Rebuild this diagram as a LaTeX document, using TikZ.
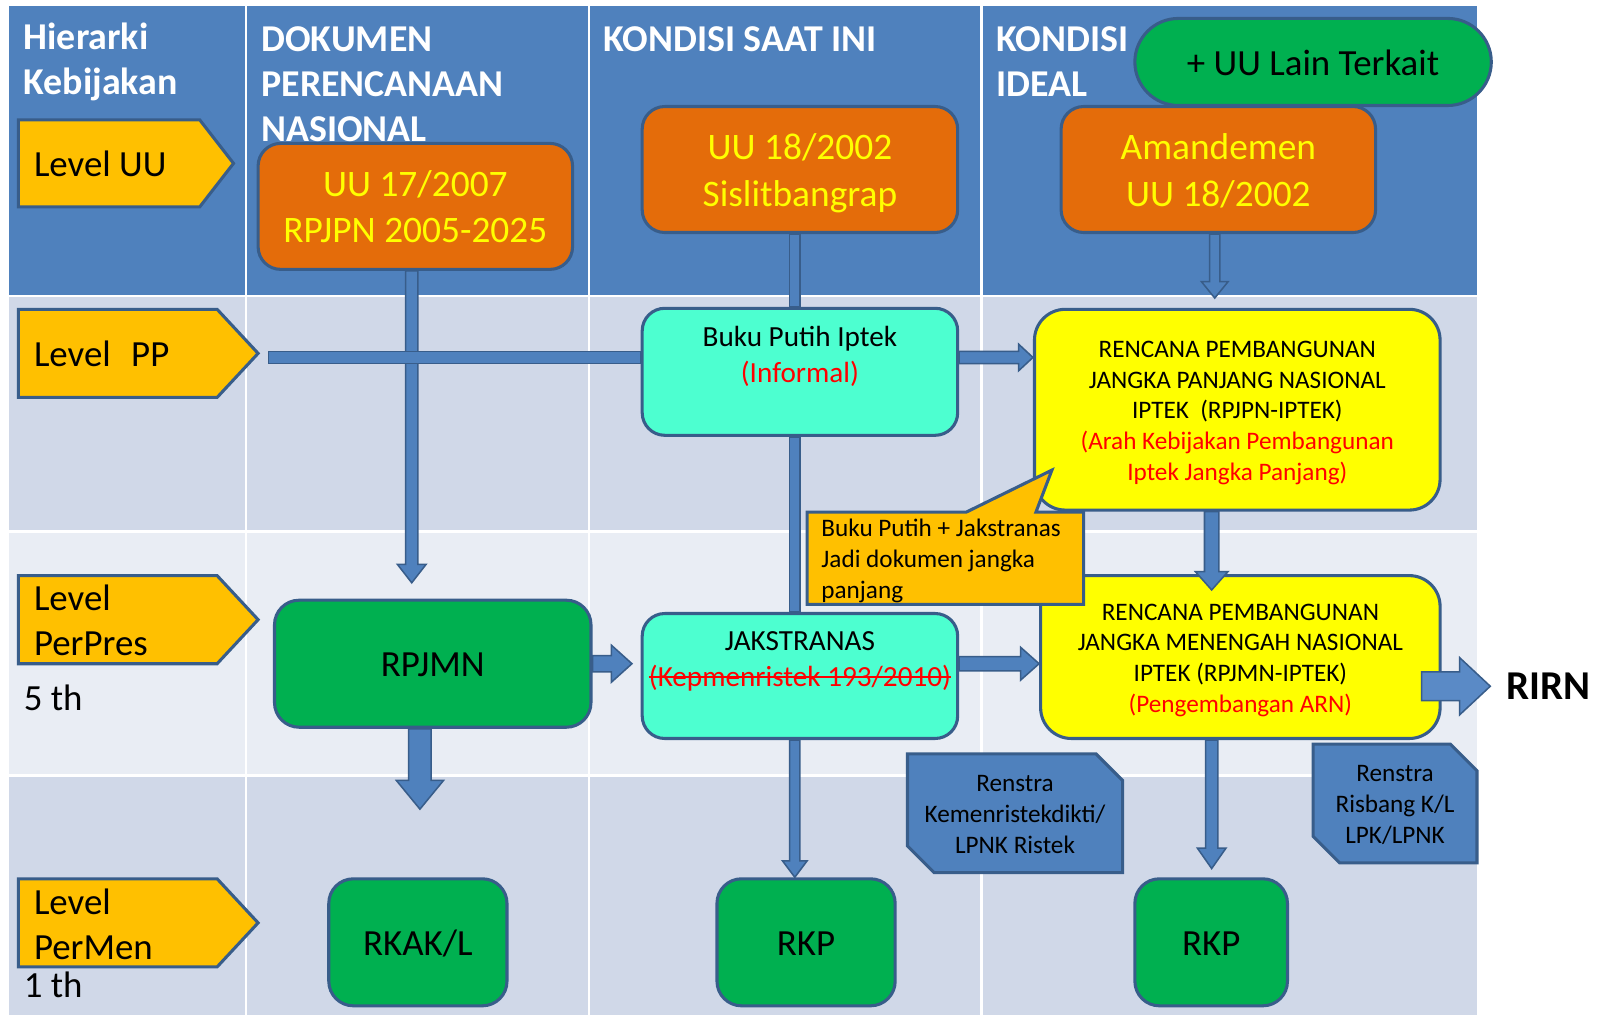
\documentclass[tikz,border=0pt]{standalone}
\usepackage{fontspec}
\setmainfont{Carlito}
\newcommand\mystrike[1]{\setbox0\hbox{#1}\rlap{\rule[0.3em]{\wd0}{2pt}}\box0}
\newcommand\mystrut{\rule[-0.25em]{0pt}{1.22em}}
\usetikzlibrary{shapes.misc,shapes.callouts,calc}
\definecolor{hdr}{HTML}{4F81BD}
\definecolor{rowA}{HTML}{D0D8E8}
\definecolor{rowB}{HTML}{E9EDF4}
\definecolor{bdr}{HTML}{385D8A}
\definecolor{orng}{HTML}{E46C0A}
\definecolor{gold}{HTML}{FFC000}
\definecolor{aqua}{HTML}{4DFFD0}
\definecolor{grn}{HTML}{00B050}
\definecolor{ylw}{HTML}{FFFF00}
\definecolor{redt}{HTML}{FF0000}
\definecolor{arrl}{HTML}{5A8AC6}
\tikzset{
  basebox/.style={draw=bdr, line width=3pt, rounded corners=22pt, align=center, inner sep=0pt, anchor=center},
  orangebox/.style={basebox, fill=orng, text=ylw, font=\fontsize{36.5}{45}\selectfont},
  aquabox/.style={basebox, fill=aqua, text=black, font=\fontsize{28.5}{35}\selectfont},
  yellowbox/.style={basebox, rounded corners=30pt, fill=ylw, text=black, font=\fontsize{24.6}{30}\selectfont},
  greenbox/.style={basebox, rounded corners=24pt, fill=grn, text=black, font=\fontsize{36}{44}\selectfont},
  renbox/.style={chamfered rectangle, chamfered rectangle corners={north east,south west},
     chamfered rectangle xsep=13pt, chamfered rectangle ysep=13pt,
     draw=bdr, line width=3pt, fill=hdr, align=center, inner sep=0pt, text=black,
     font=\fontsize{24.6}{30}\selectfont},
  lainbox/.style={rounded rectangle, draw=bdr, line width=3pt, fill=grn, text=black, inner sep=0pt,
     font=\fontsize{36}{44}\selectfont},
  calloutbox/.style={rectangle callout, draw=bdr, line width=3pt, fill=gold, text=black, align=flush left,
     inner sep=0pt, font=\fontsize{24.6}{30}\selectfont},
  lvl/.style={draw=bdr, line width=3pt, fill=gold},
  lvltext/.style={anchor=west, align=left, inner sep=0pt, text=black, font=\fontsize{36}{44}\selectfont},
  hdrtext/.style={anchor=west, align=left, inner sep=0pt, text=white, font=\bfseries\fontsize{37}{44}\selectfont},
  blockarrow/.style={draw=bdr, line width=1.5pt, fill=hdr},
  gridline/.style={white, line width=2.5pt}
}
\newcommand\myvbar[3]{\path[blockarrow] let \p1=#1, \p2=#2 in (\x1-#3,\y1) rectangle (\x1+#3,\y2);}
\newcommand\myhbar[3]{\path[blockarrow] let \p1=#1, \p2=#2 in (\x1,\y1-#3) rectangle (\x2,\y1+#3);}
\newcommand\myvarrow[6][]{\path[blockarrow,#1] let \p1=#2, \p2=#3 in (\x1-#4,\y1) -- (\x1-#4,\y2+#6) -- (\x1-#5,\y2+#6) -- (\x1,\y2) -- (\x1+#5,\y2+#6) -- (\x1+#4,\y2+#6) -- (\x1+#4,\y1) -- cycle;}
\newcommand\myharrow[6][]{\path[blockarrow,#1] let \p1=#2, \p2=#3 in (\x1,\y1-#4) -- (\x2-#6,\y1-#4) -- (\x2-#6,\y1-#5) -- (\x2,\y1) -- (\x2-#6,\y1+#5) -- (\x2-#6,\y1+#4) -- (\x1,\y1+#4) -- cycle;}
\begin{document}
\begin{tikzpicture}[x=1pt,y=-1pt]
\useasboundingbox (0,0) rectangle (1568,991);
\fill[white] (0,0) rectangle (1568,991);
% table
\fill[hdr] (9,6) rectangle (1442,289);
\fill[rowA] (9,289) rectangle (1442,519);
\fill[rowB] (9,519) rectangle (1442,757);
\fill[rowA] (9,757) rectangle (1442,991);
\foreach \xx in {240,575,958} \draw[gridline] (\xx,6) -- (\xx,991);
\foreach \yy in {289,519,757} \draw[gridline] (9,\yy) -- (1442,\yy);
% headers
\node[hdrtext] (h1) at (23,60) {Hierarki\\Kebijakan};
\node[hdrtext] (h2) at (255,82) {DOKUMEN\\PERENCANAAN\\NASIONAL};
\node[hdrtext] (h3) at (589,38) {KONDISI SAAT INI};
\node[hdrtext] (h4) at (973,60) {KONDISI\\IDEAL};
% level shapes
\path[lvl] (18,117) -- (195,117) -- (228,159.5) -- (195,202) -- (18,202) -- cycle;
\path[lvl] (18,302) -- (212,302) -- (252,345) -- (212,388) -- (18,388) -- cycle;
\path[lvl] (18,562) -- (212,562) -- (252,605) -- (212,648) -- (18,648) -- cycle;
\path[lvl] (18,858) -- (212,858) -- (252,901) -- (212,944) -- (18,944) -- cycle;
\node[lvltext] (l1) at (33,160) {Level UU};
\node[lvltext] (l2) at (33,345) {Level\hspace{20pt}PP};
\node[lvltext] (l3) at (33,606) {Level\\PerPres};
\node[lvltext] (l3b) at (23,681) {5 th};
\node[lvltext] (l4) at (33,902) {Level\\PerMen};
\node[lvltext] (l4b) at (23,962) {1 th};
% boxes
\node[orangebox, minimum width=307pt, minimum height=123pt] (uu17) at (405.5,201.5) {\mystrut UU 17/2007\\RPJPN 2005-2025\mystrut};
\node[orangebox, minimum width=308pt, minimum height=123pt] (uu18) at (781,165.5) {\mystrut UU 18/2002\\Sislitbangrap\mystrut};
\node[orangebox, minimum width=307pt, minimum height=123pt] (amd) at (1189.5,165.5) {\mystrut Amandemen\\UU 18/2002\mystrut};
\node[lainbox, minimum width=348pt, minimum height=85pt] (lain) at (1282,60.5) {\mystrut + UU Lain Terkait};
\node[aquabox, minimum width=308pt, minimum height=124pt] (buku) at (781,363) {\mystrut Buku Putih Iptek\\\textcolor{redt}{(Informal)}\\\mystrut};
\node[yellowbox, minimum width=396pt, minimum height=196pt] (ri1) at (1208,400) {\mystrut RENCANA PEMBANGUNAN\\JANGKA PANJANG NASIONAL\\IPTEK\ \ (RPJPN-IPTEK)\\\textcolor{redt}{(Arah Kebijakan Pembangunan}\\\textcolor{redt}{Iptek Jangka Panjang)}\mystrut};
\node[greenbox, minimum width=309pt, minimum height=124pt] (rpjmn) at (422.5,648) {\mystrut RPJMN};
\node[aquabox, minimum width=308pt, minimum height=122pt] (jak) at (781,660) {\mystrut JAKSTRANAS\\\textcolor{redt}{\mystrike{(Kepmenristek 193/2010)}}\\\mystrut};
\node[yellowbox, minimum width=390pt, minimum height=159pt] (ri2) at (1211,641.5) {\mystrut RENCANA PEMBANGUNAN\\JANGKA MENENGAH NASIONAL\\IPTEK (RPJMN-IPTEK)\\\textcolor{redt}{(Pengembangan ARN)}\mystrut};
\node[renbox, minimum width=210pt, minimum height=104pt] (ren1) at (991,794) {\mystrut Renstra\\Kemenristekdikti/\\LPNK Ristek\mystrut};
\node[renbox, minimum width=160pt, minimum height=103pt] (ren2) at (1362,784.5) {\mystrut Renstra\\Risbang K/L\\LPK/LPNK\mystrut};
\node[greenbox, minimum width=174pt, minimum height=124pt] (rkakl) at (408,920) {\mystrut RKAK/L};
\node[greenbox, minimum width=174pt, minimum height=124pt] (rkp1) at (787,920) {\mystrut RKP};
\node[greenbox, minimum width=149pt, minimum height=124pt] (rkp2) at (1182.5,920) {\mystrut RKP};
\node[anchor=west, inner sep=0pt, font=\bfseries\fontsize{40}{48}\selectfont] (rirn) at (1471,670) {RIRN};
% coordinates
\coordinate (tA) at (402,569);
\coordinate (colB) at (776,0);
\coordinate (tE) at (1186,291);
\coordinate (colD) at (1183,0);
\coordinate (tF) at (1183,576);
\coordinate (tG) at (410,790);
\coordinate (tH) at (1183,848);
\coordinate (hs) at (262,349);
\coordinate (tK) at (617,648);
\coordinate (rowP) at (0,648);
\coordinate (rs) at (1388,670);
\coordinate (rt) at (1455,670);
% connectors
\myvarrow{(tA |- uu17.south)}{(tA)}{6pt}{14pt}{18pt}
\myhbar{(hs)}{(hs -| buku.west)}{6pt}
\myharrow{(hs -| buku.east)}{(hs -| ri1.west)}{6pt}{13pt}{14pt}
\myvbar{(colB |- uu18.south)}{(colB |- buku.north)}{5pt}
\myvbar{(colB |- buku.south)}{(colB |- jak.north)}{5pt}
\myvarrow{(colB |- jak.south)}{(colB |- rkp1.north)}{5pt}{12pt}{16pt}
\myvarrow{(tE |- amd.south)}{(tE)}{5pt}{13pt}{16pt}
\myvarrow{(colD |- ri1.south)}{(tF)}{7pt}{16pt}{18pt}
\myvarrow{(tG |- rpjmn.south)}{(tG)}{11pt}{23pt}{28pt}
\myvarrow{(colD |- ri2.south)}{(tH)}{6pt}{14pt}{20pt}
\myharrow{(rowP -| rpjmn.east)}{(tK)}{8pt}{18pt}{20pt}
\myharrow{(rowP -| jak.east)}{(rowP -| ri2.west)}{7pt}{16pt}{18pt}
\myharrow[fill=arrl]{(rs)}{(rt)}{14pt}{28pt}{30pt}
% callout
\node[calloutbox, minimum width=270pt, minimum height=86pt, text width=242pt, callout absolute pointer={(1027,459)}, callout pointer width=68pt] (call) at (923,545) {\mystrut Buku Putih + Jakstranas\\Jadi dokumen jangka\\panjang\mystrut};
\end{tikzpicture}
\end{document}
